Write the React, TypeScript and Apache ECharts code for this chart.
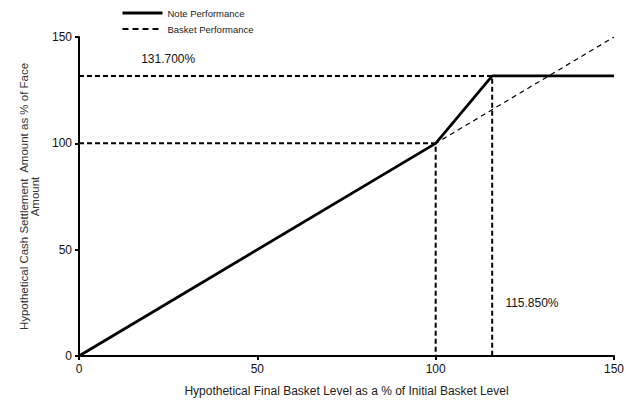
import React, { useEffect, useRef } from "react";
import * as echarts from "echarts";

const xTicks = [0, 50, 100, 150];
const notePerformance: [number, number][] = [
  [0, 0],
  [100, 100],
  [115.85, 131.7],
  [150, 131.7],
];
const basketPerformance: [number, number][] = [
  [0, 0],
  [150, 150],
];
const capGuide: [number, number][] = [
  [0, 131.7],
  [115.85, 131.7],
  [115.85, 0],
];
const parGuide: [number, number][] = [
  [0, 100],
  [100, 100],
  [100, 0],
];
const annotationTexts = ["131.700%", "115.850%"];
const annotationPoints: [number, number][] = [
  [25, 139.7],
  [127, 24.9],
];

const FONT = "Liberation Sans, Arial, sans-serif";

export default function App() {
  const ref = useRef<HTMLDivElement>(null);
  useEffect(() => {
    if (!ref.current) return;
    const chart = echarts.init(ref.current, undefined, { renderer: "svg" });
    const axisCommon = {
      type: "value" as const,
      min: xTicks[0],
      max: xTicks[xTicks.length - 1],
      interval: 50,
      splitLine: { show: false },
      axisLine: { show: true, lineStyle: { color: "#000", width: 2 } },
      axisTick: { show: true, inside: false, length: 4, lineStyle: { color: "#000", width: 2 } },
      axisLabel: { color: "#111", fontSize: 12, fontFamily: FONT, margin: 7 },
      nameLocation: "middle" as const,
      nameTextStyle: { color: "#222", fontSize: 12, fontFamily: FONT },
    };
    const guideStyle = { color: "#000", width: 2, type: [5, 3] as number[] };
    chart.setOption({
      animation: false,
      backgroundColor: "#fff",
      color: ["#000"],
      textStyle: { fontFamily: FONT },
      grid: { left: 79, right: 23, top: 37, bottom: 46, containLabel: false },
      legend: {
        orient: "vertical",
        left: 116,
        top: 3,
        itemWidth: 40,
        itemHeight: 10,
        itemGap: 6,
        textStyle: { color: "#222", fontSize: 9.5, fontFamily: FONT },
        data: [
          {
            name: "Note Performance",
            itemStyle: { opacity: 0 },
            lineStyle: { width: 3, color: "#000" },
          },
          {
            name: "Basket Performance",
            itemStyle: { opacity: 0 },
            lineStyle: { width: 2, color: "#000", type: [6, 4] },
          },
        ],
      },
      xAxis: {
        ...axisCommon,
        name: "Hypothetical Final Basket Level as a % of Initial Basket Level",
        nameGap: 29,
      },
      yAxis: {
        ...axisCommon,
        name: "Hypothetical Cash Settlement  Amount as % of Face\nAmount",
        nameGap: 28,
        nameTextStyle: { color: "#333", fontSize: 11.5, fontFamily: FONT, lineHeight: 11.5 },
      },
      series: [
        {
          name: "cap guide",
          type: "line",
          data: capGuide,
          symbol: "none",
          itemStyle: { color: "#000" },
          lineStyle: guideStyle,
          z: 2,
        },
        {
          name: "par guide",
          type: "line",
          data: parGuide,
          symbol: "none",
          itemStyle: { color: "#000" },
          lineStyle: guideStyle,
          z: 2,
        },
        {
          name: "Basket Performance",
          type: "line",
          data: basketPerformance,
          symbol: "none",
          itemStyle: { color: "#000" },
          lineStyle: { color: "#000", width: 1.2, type: [5, 4] },
          z: 3,
        },
        {
          name: "Note Performance",
          type: "line",
          data: notePerformance,
          symbol: "none",
          itemStyle: { color: "#000" },
          lineStyle: { color: "#000", width: 2.8 },
          z: 4,
        },
      ],
    });
    const texts = annotationPoints.map((p, i) => {
      const px = chart.convertToPixel({ gridIndex: 0 }, p) as number[];
      return {
        type: "text",
        x: px[0],
        y: px[1],
        z: 10,
        style: {
          text: annotationTexts[i],
          fill: "#111",
          font: `12px ${FONT}`,
          align: "center",
          verticalAlign: "middle",
        },
      };
    });
    chart.setOption({ graphic: texts });
    return () => chart.dispose();
  }, []);
  return (
    <div
      ref={ref}
      style={{ position: "absolute", left: 0, top: 0, width: 637, height: 402, background: "#fff" }}
    />
  );
}
